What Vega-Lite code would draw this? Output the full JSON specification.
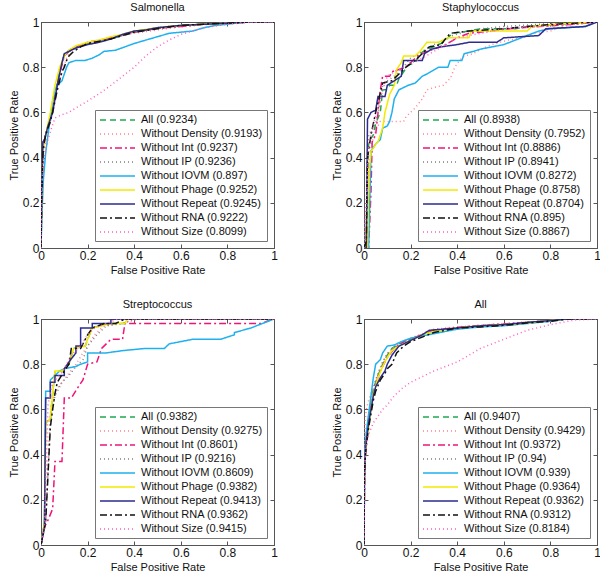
{
"$schema": "https://vega.github.io/schema/vega-lite/v6.json",
"background": "white",
"padding": {"left": 7, "top": 1, "right": 2, "bottom": 2},
"columns": 2,
"spacing": {"row": 22, "column": 52},
"datasets": {
"salmonella": [
{"s":"All","x":0,"y":0},{"s":"All","x":0.003,"y":0.2},{"s":"All","x":0.006,"y":0.38},{"s":"All","x":0.01,"y":0.46},{"s":"All","x":0.02,"y":0.5},{"s":"All","x":0.03,"y":0.54},{"s":"All","x":0.04,"y":0.57},{"s":"All","x":0.05,"y":0.62},{"s":"All","x":0.06,"y":0.68},{"s":"All","x":0.07,"y":0.73},{"s":"All","x":0.08,"y":0.78},{"s":"All","x":0.09,"y":0.82},{"s":"All","x":0.1,"y":0.855},{"s":"All","x":0.12,"y":0.875},{"s":"All","x":0.15,"y":0.89},{"s":"All","x":0.2,"y":0.905},{"s":"All","x":0.25,"y":0.915},{"s":"All","x":0.3,"y":0.925},{"s":"All","x":0.35,"y":0.94},{"s":"All","x":0.4,"y":0.955},{"s":"All","x":0.45,"y":0.965},{"s":"All","x":0.5,"y":0.975},{"s":"All","x":0.6,"y":0.985},{"s":"All","x":0.7,"y":0.99},{"s":"All","x":0.8,"y":0.995},{"s":"All","x":0.9,"y":1},{"s":"All","x":1,"y":1},
{"s":"Density","x":0,"y":0},{"s":"Density","x":0.004,"y":0.28},{"s":"Density","x":0.01,"y":0.4},{"s":"Density","x":0.02,"y":0.47},{"s":"Density","x":0.03,"y":0.52},{"s":"Density","x":0.05,"y":0.6},{"s":"Density","x":0.07,"y":0.7},{"s":"Density","x":0.09,"y":0.78},{"s":"Density","x":0.11,"y":0.84},{"s":"Density","x":0.13,"y":0.88},{"s":"Density","x":0.17,"y":0.9},{"s":"Density","x":0.22,"y":0.915},{"s":"Density","x":0.3,"y":0.93},{"s":"Density","x":0.4,"y":0.95},{"s":"Density","x":0.5,"y":0.965},{"s":"Density","x":0.6,"y":0.978},{"s":"Density","x":0.7,"y":0.988},{"s":"Density","x":0.8,"y":0.995},{"s":"Density","x":0.9,"y":1},{"s":"Density","x":1,"y":1},
{"s":"Int","x":0,"y":0},{"s":"Int","x":0.003,"y":0.22},{"s":"Int","x":0.007,"y":0.4},{"s":"Int","x":0.01,"y":0.45},{"s":"Int","x":0.02,"y":0.5},{"s":"Int","x":0.04,"y":0.56},{"s":"Int","x":0.05,"y":0.61},{"s":"Int","x":0.06,"y":0.67},{"s":"Int","x":0.08,"y":0.77},{"s":"Int","x":0.1,"y":0.85},{"s":"Int","x":0.12,"y":0.87},{"s":"Int","x":0.15,"y":0.89},{"s":"Int","x":0.2,"y":0.91},{"s":"Int","x":0.25,"y":0.92},{"s":"Int","x":0.3,"y":0.93},{"s":"Int","x":0.35,"y":0.945},{"s":"Int","x":0.4,"y":0.955},{"s":"Int","x":0.5,"y":0.972},{"s":"Int","x":0.6,"y":0.98},{"s":"Int","x":0.7,"y":0.99},{"s":"Int","x":0.8,"y":0.996},{"s":"Int","x":0.9,"y":1},{"s":"Int","x":1,"y":1},
{"s":"IP","x":0,"y":0},{"s":"IP","x":0.003,"y":0.21},{"s":"IP","x":0.006,"y":0.38},{"s":"IP","x":0.01,"y":0.46},{"s":"IP","x":0.02,"y":0.51},{"s":"IP","x":0.04,"y":0.57},{"s":"IP","x":0.06,"y":0.68},{"s":"IP","x":0.08,"y":0.78},{"s":"IP","x":0.1,"y":0.85},{"s":"IP","x":0.13,"y":0.88},{"s":"IP","x":0.2,"y":0.905},{"s":"IP","x":0.3,"y":0.925},{"s":"IP","x":0.4,"y":0.955},{"s":"IP","x":0.5,"y":0.975},{"s":"IP","x":0.6,"y":0.985},{"s":"IP","x":0.8,"y":0.995},{"s":"IP","x":0.9,"y":1},{"s":"IP","x":1,"y":1},
{"s":"IOVM","x":0,"y":0},{"s":"IOVM","x":0.004,"y":0.15},{"s":"IOVM","x":0.01,"y":0.3},{"s":"IOVM","x":0.02,"y":0.42},{"s":"IOVM","x":0.03,"y":0.5},{"s":"IOVM","x":0.04,"y":0.58},{"s":"IOVM","x":0.05,"y":0.65},{"s":"IOVM","x":0.06,"y":0.7},{"s":"IOVM","x":0.07,"y":0.72},{"s":"IOVM","x":0.09,"y":0.74},{"s":"IOVM","x":0.1,"y":0.77},{"s":"IOVM","x":0.11,"y":0.8},{"s":"IOVM","x":0.12,"y":0.82},{"s":"IOVM","x":0.15,"y":0.83},{"s":"IOVM","x":0.19,"y":0.83},{"s":"IOVM","x":0.22,"y":0.84},{"s":"IOVM","x":0.25,"y":0.855},{"s":"IOVM","x":0.27,"y":0.87},{"s":"IOVM","x":0.32,"y":0.875},{"s":"IOVM","x":0.36,"y":0.89},{"s":"IOVM","x":0.4,"y":0.905},{"s":"IOVM","x":0.45,"y":0.92},{"s":"IOVM","x":0.5,"y":0.935},{"s":"IOVM","x":0.55,"y":0.95},{"s":"IOVM","x":0.6,"y":0.955},{"s":"IOVM","x":0.65,"y":0.96},{"s":"IOVM","x":0.7,"y":0.975},{"s":"IOVM","x":0.75,"y":0.985},{"s":"IOVM","x":0.8,"y":0.99},{"s":"IOVM","x":0.88,"y":1},{"s":"IOVM","x":1,"y":1},
{"s":"Phage","x":0,"y":0},{"s":"Phage","x":0.003,"y":0.2},{"s":"Phage","x":0.006,"y":0.36},{"s":"Phage","x":0.01,"y":0.44},{"s":"Phage","x":0.02,"y":0.5},{"s":"Phage","x":0.03,"y":0.55},{"s":"Phage","x":0.04,"y":0.6},{"s":"Phage","x":0.05,"y":0.66},{"s":"Phage","x":0.06,"y":0.72},{"s":"Phage","x":0.07,"y":0.76},{"s":"Phage","x":0.08,"y":0.8},{"s":"Phage","x":0.1,"y":0.85},{"s":"Phage","x":0.12,"y":0.875},{"s":"Phage","x":0.15,"y":0.895},{"s":"Phage","x":0.2,"y":0.91},{"s":"Phage","x":0.25,"y":0.92},{"s":"Phage","x":0.3,"y":0.935},{"s":"Phage","x":0.35,"y":0.945},{"s":"Phage","x":0.4,"y":0.96},{"s":"Phage","x":0.5,"y":0.975},{"s":"Phage","x":0.6,"y":0.985},{"s":"Phage","x":0.7,"y":0.99},{"s":"Phage","x":0.8,"y":0.995},{"s":"Phage","x":0.9,"y":1},{"s":"Phage","x":1,"y":1},
{"s":"Repeat","x":0,"y":0},{"s":"Repeat","x":0.003,"y":0.25},{"s":"Repeat","x":0.008,"y":0.47},{"s":"Repeat","x":0.015,"y":0.48},{"s":"Repeat","x":0.02,"y":0.5},{"s":"Repeat","x":0.03,"y":0.54},{"s":"Repeat","x":0.04,"y":0.57},{"s":"Repeat","x":0.05,"y":0.6},{"s":"Repeat","x":0.06,"y":0.66},{"s":"Repeat","x":0.07,"y":0.72},{"s":"Repeat","x":0.08,"y":0.77},{"s":"Repeat","x":0.09,"y":0.82},{"s":"Repeat","x":0.1,"y":0.86},{"s":"Repeat","x":0.12,"y":0.87},{"s":"Repeat","x":0.15,"y":0.885},{"s":"Repeat","x":0.2,"y":0.9},{"s":"Repeat","x":0.25,"y":0.91},{"s":"Repeat","x":0.3,"y":0.925},{"s":"Repeat","x":0.35,"y":0.945},{"s":"Repeat","x":0.4,"y":0.96},{"s":"Repeat","x":0.45,"y":0.965},{"s":"Repeat","x":0.5,"y":0.975},{"s":"Repeat","x":0.6,"y":0.985},{"s":"Repeat","x":0.7,"y":0.99},{"s":"Repeat","x":0.8,"y":0.995},{"s":"Repeat","x":0.9,"y":1},{"s":"Repeat","x":1,"y":1},
{"s":"RNA","x":0,"y":0},{"s":"RNA","x":0.003,"y":0.2},{"s":"RNA","x":0.007,"y":0.37},{"s":"RNA","x":0.01,"y":0.44},{"s":"RNA","x":0.02,"y":0.5},{"s":"RNA","x":0.04,"y":0.56},{"s":"RNA","x":0.05,"y":0.6},{"s":"RNA","x":0.06,"y":0.65},{"s":"RNA","x":0.07,"y":0.7},{"s":"RNA","x":0.08,"y":0.74},{"s":"RNA","x":0.09,"y":0.78},{"s":"RNA","x":0.1,"y":0.8},{"s":"RNA","x":0.11,"y":0.83},{"s":"RNA","x":0.12,"y":0.85},{"s":"RNA","x":0.14,"y":0.87},{"s":"RNA","x":0.17,"y":0.89},{"s":"RNA","x":0.2,"y":0.905},{"s":"RNA","x":0.3,"y":0.925},{"s":"RNA","x":0.4,"y":0.955},{"s":"RNA","x":0.5,"y":0.97},{"s":"RNA","x":0.6,"y":0.985},{"s":"RNA","x":0.7,"y":0.99},{"s":"RNA","x":0.8,"y":0.995},{"s":"RNA","x":0.9,"y":1},{"s":"RNA","x":1,"y":1},
{"s":"Size","x":0,"y":0},{"s":"Size","x":0.003,"y":0.27},{"s":"Size","x":0.01,"y":0.38},{"s":"Size","x":0.02,"y":0.43},{"s":"Size","x":0.03,"y":0.48},{"s":"Size","x":0.045,"y":0.53},{"s":"Size","x":0.06,"y":0.575},{"s":"Size","x":0.09,"y":0.59},{"s":"Size","x":0.12,"y":0.6},{"s":"Size","x":0.15,"y":0.62},{"s":"Size","x":0.2,"y":0.65},{"s":"Size","x":0.26,"y":0.69},{"s":"Size","x":0.3,"y":0.72},{"s":"Size","x":0.35,"y":0.76},{"s":"Size","x":0.4,"y":0.8},{"s":"Size","x":0.45,"y":0.85},{"s":"Size","x":0.5,"y":0.89},{"s":"Size","x":0.55,"y":0.92},{"s":"Size","x":0.6,"y":0.945},{"s":"Size","x":0.65,"y":0.96},{"s":"Size","x":0.7,"y":0.975},{"s":"Size","x":0.8,"y":0.99},{"s":"Size","x":0.9,"y":1},{"s":"Size","x":1,"y":1}
],
"staphylococcus": [
{"s":"All","x":0,"y":0},{"s":"All","x":0.01,"y":0.02},{"s":"All","x":0.015,"y":0.3},{"s":"All","x":0.02,"y":0.47},{"s":"All","x":0.04,"y":0.5},{"s":"All","x":0.05,"y":0.55},{"s":"All","x":0.07,"y":0.6},{"s":"All","x":0.08,"y":0.7},{"s":"All","x":0.1,"y":0.7},{"s":"All","x":0.11,"y":0.72},{"s":"All","x":0.14,"y":0.72},{"s":"All","x":0.15,"y":0.75},{"s":"All","x":0.17,"y":0.78},{"s":"All","x":0.19,"y":0.81},{"s":"All","x":0.22,"y":0.82},{"s":"All","x":0.24,"y":0.86},{"s":"All","x":0.27,"y":0.88},{"s":"All","x":0.3,"y":0.89},{"s":"All","x":0.34,"y":0.91},{"s":"All","x":0.38,"y":0.95},{"s":"All","x":0.45,"y":0.96},{"s":"All","x":0.5,"y":0.97},{"s":"All","x":0.65,"y":0.97},{"s":"All","x":0.7,"y":0.98},{"s":"All","x":0.85,"y":0.99},{"s":"All","x":1,"y":1},
{"s":"Density","x":0,"y":0},{"s":"Density","x":0.01,"y":0.2},{"s":"Density","x":0.03,"y":0.45},{"s":"Density","x":0.05,"y":0.52},{"s":"Density","x":0.07,"y":0.56},{"s":"Density","x":0.17,"y":0.56},{"s":"Density","x":0.18,"y":0.58},{"s":"Density","x":0.2,"y":0.6},{"s":"Density","x":0.22,"y":0.62},{"s":"Density","x":0.25,"y":0.66},{"s":"Density","x":0.27,"y":0.7},{"s":"Density","x":0.3,"y":0.71},{"s":"Density","x":0.34,"y":0.72},{"s":"Density","x":0.37,"y":0.75},{"s":"Density","x":0.39,"y":0.8},{"s":"Density","x":0.41,"y":0.83},{"s":"Density","x":0.43,"y":0.85},{"s":"Density","x":0.47,"y":0.86},{"s":"Density","x":0.5,"y":0.88},{"s":"Density","x":0.55,"y":0.9},{"s":"Density","x":0.62,"y":0.92},{"s":"Density","x":0.68,"y":0.93},{"s":"Density","x":0.72,"y":0.95},{"s":"Density","x":0.8,"y":0.96},{"s":"Density","x":0.85,"y":0.98},{"s":"Density","x":0.9,"y":0.99},{"s":"Density","x":1,"y":1},
{"s":"Int","x":0,"y":0},{"s":"Int","x":0.02,"y":0},{"s":"Int","x":0.03,"y":0.25},{"s":"Int","x":0.035,"y":0.47},{"s":"Int","x":0.05,"y":0.5},{"s":"Int","x":0.06,"y":0.6},{"s":"Int","x":0.07,"y":0.7},{"s":"Int","x":0.08,"y":0.76},{"s":"Int","x":0.11,"y":0.76},{"s":"Int","x":0.12,"y":0.78},{"s":"Int","x":0.15,"y":0.79},{"s":"Int","x":0.18,"y":0.8},{"s":"Int","x":0.21,"y":0.83},{"s":"Int","x":0.23,"y":0.85},{"s":"Int","x":0.27,"y":0.87},{"s":"Int","x":0.3,"y":0.88},{"s":"Int","x":0.35,"y":0.9},{"s":"Int","x":0.4,"y":0.93},{"s":"Int","x":0.45,"y":0.95},{"s":"Int","x":0.55,"y":0.96},{"s":"Int","x":0.62,"y":0.97},{"s":"Int","x":0.75,"y":0.98},{"s":"Int","x":0.9,"y":0.99},{"s":"Int","x":1,"y":1},
{"s":"IP","x":0,"y":0},{"s":"IP","x":0.01,"y":0.05},{"s":"IP","x":0.015,"y":0.35},{"s":"IP","x":0.02,"y":0.5},{"s":"IP","x":0.05,"y":0.55},{"s":"IP","x":0.07,"y":0.65},{"s":"IP","x":0.08,"y":0.72},{"s":"IP","x":0.1,"y":0.74},{"s":"IP","x":0.13,"y":0.76},{"s":"IP","x":0.16,"y":0.79},{"s":"IP","x":0.2,"y":0.84},{"s":"IP","x":0.25,"y":0.87},{"s":"IP","x":0.3,"y":0.9},{"s":"IP","x":0.38,"y":0.94},{"s":"IP","x":0.45,"y":0.96},{"s":"IP","x":0.5,"y":0.97},{"s":"IP","x":0.6,"y":0.98},{"s":"IP","x":0.75,"y":0.99},{"s":"IP","x":1,"y":1},
{"s":"IOVM","x":0,"y":0},{"s":"IOVM","x":0.02,"y":0},{"s":"IOVM","x":0.03,"y":0.43},{"s":"IOVM","x":0.05,"y":0.46},{"s":"IOVM","x":0.07,"y":0.48},{"s":"IOVM","x":0.08,"y":0.53},{"s":"IOVM","x":0.1,"y":0.54},{"s":"IOVM","x":0.11,"y":0.56},{"s":"IOVM","x":0.12,"y":0.6},{"s":"IOVM","x":0.13,"y":0.66},{"s":"IOVM","x":0.15,"y":0.7},{"s":"IOVM","x":0.17,"y":0.71},{"s":"IOVM","x":0.19,"y":0.72},{"s":"IOVM","x":0.22,"y":0.73},{"s":"IOVM","x":0.25,"y":0.76},{"s":"IOVM","x":0.27,"y":0.77},{"s":"IOVM","x":0.32,"y":0.8},{"s":"IOVM","x":0.36,"y":0.8},{"s":"IOVM","x":0.37,"y":0.83},{"s":"IOVM","x":0.42,"y":0.83},{"s":"IOVM","x":0.43,"y":0.86},{"s":"IOVM","x":0.47,"y":0.87},{"s":"IOVM","x":0.5,"y":0.88},{"s":"IOVM","x":0.55,"y":0.89},{"s":"IOVM","x":0.6,"y":0.9},{"s":"IOVM","x":0.65,"y":0.92},{"s":"IOVM","x":0.7,"y":0.94},{"s":"IOVM","x":0.75,"y":0.96},{"s":"IOVM","x":0.8,"y":0.97},{"s":"IOVM","x":0.95,"y":0.98},{"s":"IOVM","x":1,"y":1},
{"s":"Phage","x":0,"y":0},{"s":"Phage","x":0.015,"y":0},{"s":"Phage","x":0.02,"y":0.3},{"s":"Phage","x":0.03,"y":0.43},{"s":"Phage","x":0.04,"y":0.44},{"s":"Phage","x":0.05,"y":0.46},{"s":"Phage","x":0.06,"y":0.47},{"s":"Phage","x":0.08,"y":0.53},{"s":"Phage","x":0.09,"y":0.6},{"s":"Phage","x":0.1,"y":0.64},{"s":"Phage","x":0.11,"y":0.68},{"s":"Phage","x":0.13,"y":0.72},{"s":"Phage","x":0.14,"y":0.79},{"s":"Phage","x":0.16,"y":0.82},{"s":"Phage","x":0.17,"y":0.85},{"s":"Phage","x":0.22,"y":0.85},{"s":"Phage","x":0.24,"y":0.87},{"s":"Phage","x":0.27,"y":0.91},{"s":"Phage","x":0.32,"y":0.91},{"s":"Phage","x":0.36,"y":0.93},{"s":"Phage","x":0.45,"y":0.93},{"s":"Phage","x":0.46,"y":0.96},{"s":"Phage","x":0.7,"y":0.96},{"s":"Phage","x":0.72,"y":0.98},{"s":"Phage","x":0.82,"y":0.99},{"s":"Phage","x":1,"y":1},
{"s":"Repeat","x":0,"y":0},{"s":"Repeat","x":0.01,"y":0},{"s":"Repeat","x":0.015,"y":0.57},{"s":"Repeat","x":0.03,"y":0.6},{"s":"Repeat","x":0.05,"y":0.61},{"s":"Repeat","x":0.06,"y":0.67},{"s":"Repeat","x":0.09,"y":0.67},{"s":"Repeat","x":0.1,"y":0.72},{"s":"Repeat","x":0.13,"y":0.74},{"s":"Repeat","x":0.16,"y":0.76},{"s":"Repeat","x":0.17,"y":0.83},{"s":"Repeat","x":0.25,"y":0.83},{"s":"Repeat","x":0.26,"y":0.86},{"s":"Repeat","x":0.29,"y":0.88},{"s":"Repeat","x":0.33,"y":0.89},{"s":"Repeat","x":0.4,"y":0.9},{"s":"Repeat","x":0.45,"y":0.91},{"s":"Repeat","x":0.57,"y":0.91},{"s":"Repeat","x":0.6,"y":0.93},{"s":"Repeat","x":0.75,"y":0.94},{"s":"Repeat","x":0.78,"y":0.97},{"s":"Repeat","x":0.95,"y":0.98},{"s":"Repeat","x":1,"y":1},
{"s":"RNA","x":0,"y":0},{"s":"RNA","x":0.01,"y":0.03},{"s":"RNA","x":0.015,"y":0.4},{"s":"RNA","x":0.03,"y":0.5},{"s":"RNA","x":0.05,"y":0.6},{"s":"RNA","x":0.08,"y":0.73},{"s":"RNA","x":0.12,"y":0.74},{"s":"RNA","x":0.15,"y":0.77},{"s":"RNA","x":0.18,"y":0.8},{"s":"RNA","x":0.22,"y":0.83},{"s":"RNA","x":0.25,"y":0.86},{"s":"RNA","x":0.28,"y":0.89},{"s":"RNA","x":0.33,"y":0.9},{"s":"RNA","x":0.37,"y":0.95},{"s":"RNA","x":0.45,"y":0.96},{"s":"RNA","x":0.6,"y":0.97},{"s":"RNA","x":0.7,"y":0.98},{"s":"RNA","x":0.82,"y":0.99},{"s":"RNA","x":1,"y":1},
{"s":"Size","x":0,"y":0},{"s":"Size","x":0.01,"y":0.2},{"s":"Size","x":0.02,"y":0.45},{"s":"Size","x":0.04,"y":0.55},{"s":"Size","x":0.06,"y":0.62},{"s":"Size","x":0.08,"y":0.7},{"s":"Size","x":0.1,"y":0.76},{"s":"Size","x":0.13,"y":0.78},{"s":"Size","x":0.17,"y":0.8},{"s":"Size","x":0.2,"y":0.82},{"s":"Size","x":0.25,"y":0.84},{"s":"Size","x":0.3,"y":0.87},{"s":"Size","x":0.35,"y":0.9},{"s":"Size","x":0.4,"y":0.93},{"s":"Size","x":0.5,"y":0.95},{"s":"Size","x":0.6,"y":0.97},{"s":"Size","x":0.75,"y":0.98},{"s":"Size","x":0.9,"y":0.99},{"s":"Size","x":1,"y":1}
],
"streptococcus": [
{"s":"All","x":0,"y":0},{"s":"All","x":0.015,"y":0.08},{"s":"All","x":0.02,"y":0.54},{"s":"All","x":0.04,"y":0.56},{"s":"All","x":0.05,"y":0.67},{"s":"All","x":0.06,"y":0.77},{"s":"All","x":0.09,"y":0.77},{"s":"All","x":0.12,"y":0.8},{"s":"All","x":0.14,"y":0.87},{"s":"All","x":0.19,"y":0.88},{"s":"All","x":0.2,"y":0.91},{"s":"All","x":0.22,"y":0.96},{"s":"All","x":0.28,"y":0.98},{"s":"All","x":0.36,"y":0.98},{"s":"All","x":0.37,"y":1},{"s":"All","x":1,"y":1},
{"s":"Density","x":0,"y":0},{"s":"Density","x":0.02,"y":0.1},{"s":"Density","x":0.04,"y":0.58},{"s":"Density","x":0.06,"y":0.68},{"s":"Density","x":0.09,"y":0.72},{"s":"Density","x":0.12,"y":0.76},{"s":"Density","x":0.15,"y":0.8},{"s":"Density","x":0.18,"y":0.85},{"s":"Density","x":0.2,"y":0.88},{"s":"Density","x":0.23,"y":0.93},{"s":"Density","x":0.27,"y":0.97},{"s":"Density","x":0.35,"y":0.98},{"s":"Density","x":0.42,"y":1},{"s":"Density","x":1,"y":1},
{"s":"Int","x":0,"y":0},{"s":"Int","x":0.01,"y":0.07},{"s":"Int","x":0.03,"y":0.11},{"s":"Int","x":0.05,"y":0.16},{"s":"Int","x":0.06,"y":0.37},{"s":"Int","x":0.09,"y":0.37},{"s":"Int","x":0.1,"y":0.65},{"s":"Int","x":0.13,"y":0.65},{"s":"Int","x":0.16,"y":0.7},{"s":"Int","x":0.18,"y":0.73},{"s":"Int","x":0.2,"y":0.8},{"s":"Int","x":0.24,"y":0.81},{"s":"Int","x":0.26,"y":0.87},{"s":"Int","x":0.3,"y":0.91},{"s":"Int","x":0.35,"y":0.91},{"s":"Int","x":0.36,"y":0.98},{"s":"Int","x":0.6,"y":0.98},{"s":"Int","x":0.95,"y":0.98},{"s":"Int","x":0.97,"y":0.99},{"s":"Int","x":1,"y":1},
{"s":"IP","x":0,"y":0},{"s":"IP","x":0.02,"y":0.1},{"s":"IP","x":0.04,"y":0.55},{"s":"IP","x":0.06,"y":0.66},{"s":"IP","x":0.09,"y":0.72},{"s":"IP","x":0.12,"y":0.75},{"s":"IP","x":0.15,"y":0.79},{"s":"IP","x":0.18,"y":0.82},{"s":"IP","x":0.2,"y":0.88},{"s":"IP","x":0.24,"y":0.93},{"s":"IP","x":0.28,"y":0.97},{"s":"IP","x":0.35,"y":0.98},{"s":"IP","x":0.4,"y":1},{"s":"IP","x":1,"y":1},
{"s":"IOVM","x":0,"y":0},{"s":"IOVM","x":0.015,"y":0.1},{"s":"IOVM","x":0.02,"y":0.68},{"s":"IOVM","x":0.04,"y":0.68},{"s":"IOVM","x":0.04,"y":0.73},{"s":"IOVM","x":0.06,"y":0.75},{"s":"IOVM","x":0.08,"y":0.77},{"s":"IOVM","x":0.1,"y":0.78},{"s":"IOVM","x":0.15,"y":0.79},{"s":"IOVM","x":0.17,"y":0.8},{"s":"IOVM","x":0.2,"y":0.81},{"s":"IOVM","x":0.2,"y":0.85},{"s":"IOVM","x":0.28,"y":0.85},{"s":"IOVM","x":0.35,"y":0.86},{"s":"IOVM","x":0.45,"y":0.87},{"s":"IOVM","x":0.53,"y":0.87},{"s":"IOVM","x":0.55,"y":0.89},{"s":"IOVM","x":0.65,"y":0.91},{"s":"IOVM","x":0.77,"y":0.91},{"s":"IOVM","x":0.83,"y":0.93},{"s":"IOVM","x":0.83,"y":0.94},{"s":"IOVM","x":0.9,"y":0.96},{"s":"IOVM","x":1,"y":1},
{"s":"Phage","x":0,"y":0},{"s":"Phage","x":0.015,"y":0.1},{"s":"Phage","x":0.02,"y":0.54},{"s":"Phage","x":0.04,"y":0.56},{"s":"Phage","x":0.05,"y":0.67},{"s":"Phage","x":0.06,"y":0.77},{"s":"Phage","x":0.09,"y":0.77},{"s":"Phage","x":0.12,"y":0.8},{"s":"Phage","x":0.14,"y":0.87},{"s":"Phage","x":0.19,"y":0.88},{"s":"Phage","x":0.2,"y":0.91},{"s":"Phage","x":0.22,"y":0.96},{"s":"Phage","x":0.3,"y":0.98},{"s":"Phage","x":0.36,"y":0.98},{"s":"Phage","x":0.37,"y":1},{"s":"Phage","x":1,"y":1},
{"s":"Repeat","x":0,"y":0},{"s":"Repeat","x":0.015,"y":0.08},{"s":"Repeat","x":0.02,"y":0.65},{"s":"Repeat","x":0.04,"y":0.65},{"s":"Repeat","x":0.04,"y":0.72},{"s":"Repeat","x":0.06,"y":0.72},{"s":"Repeat","x":0.06,"y":0.75},{"s":"Repeat","x":0.1,"y":0.75},{"s":"Repeat","x":0.1,"y":0.78},{"s":"Repeat","x":0.12,"y":0.81},{"s":"Repeat","x":0.15,"y":0.85},{"s":"Repeat","x":0.15,"y":0.88},{"s":"Repeat","x":0.17,"y":0.88},{"s":"Repeat","x":0.17,"y":0.96},{"s":"Repeat","x":0.22,"y":0.96},{"s":"Repeat","x":0.22,"y":0.98},{"s":"Repeat","x":0.3,"y":0.98},{"s":"Repeat","x":0.3,"y":1},{"s":"Repeat","x":1,"y":1},
{"s":"RNA","x":0,"y":0},{"s":"RNA","x":0.02,"y":0.1},{"s":"RNA","x":0.04,"y":0.52},{"s":"RNA","x":0.05,"y":0.6},{"s":"RNA","x":0.06,"y":0.67},{"s":"RNA","x":0.07,"y":0.72},{"s":"RNA","x":0.1,"y":0.77},{"s":"RNA","x":0.12,"y":0.8},{"s":"RNA","x":0.13,"y":0.87},{"s":"RNA","x":0.17,"y":0.87},{"s":"RNA","x":0.2,"y":0.93},{"s":"RNA","x":0.22,"y":0.96},{"s":"RNA","x":0.27,"y":0.98},{"s":"RNA","x":0.32,"y":0.98},{"s":"RNA","x":0.36,"y":1},{"s":"RNA","x":1,"y":1},
{"s":"Size","x":0,"y":0},{"s":"Size","x":0.015,"y":0.08},{"s":"Size","x":0.03,"y":0.62},{"s":"Size","x":0.05,"y":0.72},{"s":"Size","x":0.08,"y":0.75},{"s":"Size","x":0.1,"y":0.78},{"s":"Size","x":0.13,"y":0.84},{"s":"Size","x":0.17,"y":0.88},{"s":"Size","x":0.2,"y":0.93},{"s":"Size","x":0.23,"y":0.96},{"s":"Size","x":0.28,"y":0.98},{"s":"Size","x":0.33,"y":1},{"s":"Size","x":1,"y":1}
],
"all": [
{"s":"All","x":0,"y":0},{"s":"All","x":0.002,"y":0.3},{"s":"All","x":0.005,"y":0.4},{"s":"All","x":0.01,"y":0.47},{"s":"All","x":0.02,"y":0.56},{"s":"All","x":0.03,"y":0.63},{"s":"All","x":0.04,"y":0.69},{"s":"All","x":0.05,"y":0.72},{"s":"All","x":0.06,"y":0.75},{"s":"All","x":0.08,"y":0.8},{"s":"All","x":0.1,"y":0.84},{"s":"All","x":0.12,"y":0.87},{"s":"All","x":0.15,"y":0.89},{"s":"All","x":0.2,"y":0.91},{"s":"All","x":0.25,"y":0.93},{"s":"All","x":0.3,"y":0.945},{"s":"All","x":0.4,"y":0.96},{"s":"All","x":0.5,"y":0.97},{"s":"All","x":0.6,"y":0.975},{"s":"All","x":0.7,"y":0.985},{"s":"All","x":0.8,"y":0.993},{"s":"All","x":0.87,"y":1},{"s":"All","x":1,"y":1},
{"s":"Density","x":0,"y":0},{"s":"Density","x":0.002,"y":0.42},{"s":"Density","x":0.005,"y":0.55},{"s":"Density","x":0.01,"y":0.6},{"s":"Density","x":0.02,"y":0.64},{"s":"Density","x":0.04,"y":0.7},{"s":"Density","x":0.06,"y":0.76},{"s":"Density","x":0.08,"y":0.81},{"s":"Density","x":0.1,"y":0.85},{"s":"Density","x":0.15,"y":0.89},{"s":"Density","x":0.2,"y":0.915},{"s":"Density","x":0.3,"y":0.955},{"s":"Density","x":0.4,"y":0.965},{"s":"Density","x":0.5,"y":0.972},{"s":"Density","x":0.6,"y":0.98},{"s":"Density","x":0.7,"y":0.987},{"s":"Density","x":0.8,"y":0.993},{"s":"Density","x":0.9,"y":1},{"s":"Density","x":1,"y":1},
{"s":"Int","x":0,"y":0},{"s":"Int","x":0.002,"y":0.28},{"s":"Int","x":0.005,"y":0.38},{"s":"Int","x":0.01,"y":0.46},{"s":"Int","x":0.02,"y":0.55},{"s":"Int","x":0.03,"y":0.62},{"s":"Int","x":0.05,"y":0.71},{"s":"Int","x":0.07,"y":0.77},{"s":"Int","x":0.1,"y":0.83},{"s":"Int","x":0.13,"y":0.87},{"s":"Int","x":0.17,"y":0.9},{"s":"Int","x":0.22,"y":0.92},{"s":"Int","x":0.3,"y":0.95},{"s":"Int","x":0.4,"y":0.963},{"s":"Int","x":0.5,"y":0.972},{"s":"Int","x":0.6,"y":0.978},{"s":"Int","x":0.7,"y":0.985},{"s":"Int","x":0.8,"y":0.993},{"s":"Int","x":0.87,"y":1},{"s":"Int","x":1,"y":1},
{"s":"IP","x":0,"y":0},{"s":"IP","x":0.002,"y":0.32},{"s":"IP","x":0.005,"y":0.41},{"s":"IP","x":0.01,"y":0.48},{"s":"IP","x":0.02,"y":0.57},{"s":"IP","x":0.03,"y":0.64},{"s":"IP","x":0.05,"y":0.73},{"s":"IP","x":0.08,"y":0.81},{"s":"IP","x":0.1,"y":0.845},{"s":"IP","x":0.15,"y":0.89},{"s":"IP","x":0.2,"y":0.91},{"s":"IP","x":0.3,"y":0.945},{"s":"IP","x":0.4,"y":0.96},{"s":"IP","x":0.5,"y":0.97},{"s":"IP","x":0.6,"y":0.975},{"s":"IP","x":0.7,"y":0.985},{"s":"IP","x":0.8,"y":0.993},{"s":"IP","x":0.87,"y":1},{"s":"IP","x":1,"y":1},
{"s":"IOVM","x":0,"y":0},{"s":"IOVM","x":0.002,"y":0.3},{"s":"IOVM","x":0.005,"y":0.42},{"s":"IOVM","x":0.01,"y":0.5},{"s":"IOVM","x":0.02,"y":0.58},{"s":"IOVM","x":0.03,"y":0.66},{"s":"IOVM","x":0.04,"y":0.74},{"s":"IOVM","x":0.05,"y":0.8},{"s":"IOVM","x":0.07,"y":0.82},{"s":"IOVM","x":0.08,"y":0.85},{"s":"IOVM","x":0.1,"y":0.88},{"s":"IOVM","x":0.13,"y":0.885},{"s":"IOVM","x":0.16,"y":0.9},{"s":"IOVM","x":0.2,"y":0.915},{"s":"IOVM","x":0.25,"y":0.925},{"s":"IOVM","x":0.3,"y":0.935},{"s":"IOVM","x":0.4,"y":0.955},{"s":"IOVM","x":0.5,"y":0.965},{"s":"IOVM","x":0.6,"y":0.97},{"s":"IOVM","x":0.7,"y":0.98},{"s":"IOVM","x":0.8,"y":0.99},{"s":"IOVM","x":0.87,"y":1},{"s":"IOVM","x":1,"y":1},
{"s":"Phage","x":0,"y":0},{"s":"Phage","x":0.002,"y":0.28},{"s":"Phage","x":0.005,"y":0.38},{"s":"Phage","x":0.01,"y":0.45},{"s":"Phage","x":0.02,"y":0.52},{"s":"Phage","x":0.03,"y":0.6},{"s":"Phage","x":0.04,"y":0.67},{"s":"Phage","x":0.05,"y":0.7},{"s":"Phage","x":0.06,"y":0.74},{"s":"Phage","x":0.08,"y":0.79},{"s":"Phage","x":0.1,"y":0.83},{"s":"Phage","x":0.12,"y":0.86},{"s":"Phage","x":0.15,"y":0.88},{"s":"Phage","x":0.2,"y":0.905},{"s":"Phage","x":0.25,"y":0.93},{"s":"Phage","x":0.3,"y":0.945},{"s":"Phage","x":0.4,"y":0.96},{"s":"Phage","x":0.5,"y":0.97},{"s":"Phage","x":0.6,"y":0.975},{"s":"Phage","x":0.7,"y":0.982},{"s":"Phage","x":0.8,"y":0.993},{"s":"Phage","x":0.87,"y":1},{"s":"Phage","x":1,"y":1},
{"s":"Repeat","x":0,"y":0},{"s":"Repeat","x":0.002,"y":0.3},{"s":"Repeat","x":0.005,"y":0.4},{"s":"Repeat","x":0.01,"y":0.46},{"s":"Repeat","x":0.02,"y":0.54},{"s":"Repeat","x":0.03,"y":0.6},{"s":"Repeat","x":0.04,"y":0.66},{"s":"Repeat","x":0.05,"y":0.7},{"s":"Repeat","x":0.07,"y":0.74},{"s":"Repeat","x":0.09,"y":0.77},{"s":"Repeat","x":0.1,"y":0.8},{"s":"Repeat","x":0.12,"y":0.84},{"s":"Repeat","x":0.15,"y":0.88},{"s":"Repeat","x":0.2,"y":0.905},{"s":"Repeat","x":0.25,"y":0.93},{"s":"Repeat","x":0.28,"y":0.95},{"s":"Repeat","x":0.4,"y":0.96},{"s":"Repeat","x":0.5,"y":0.97},{"s":"Repeat","x":0.6,"y":0.975},{"s":"Repeat","x":0.7,"y":0.985},{"s":"Repeat","x":0.8,"y":0.993},{"s":"Repeat","x":0.87,"y":1},{"s":"Repeat","x":1,"y":1},
{"s":"RNA","x":0,"y":0},{"s":"RNA","x":0.002,"y":0.3},{"s":"RNA","x":0.005,"y":0.38},{"s":"RNA","x":0.01,"y":0.44},{"s":"RNA","x":0.02,"y":0.52},{"s":"RNA","x":0.03,"y":0.58},{"s":"RNA","x":0.04,"y":0.64},{"s":"RNA","x":0.05,"y":0.68},{"s":"RNA","x":0.07,"y":0.73},{"s":"RNA","x":0.09,"y":0.76},{"s":"RNA","x":0.1,"y":0.78},{"s":"RNA","x":0.12,"y":0.8},{"s":"RNA","x":0.14,"y":0.85},{"s":"RNA","x":0.17,"y":0.88},{"s":"RNA","x":0.2,"y":0.9},{"s":"RNA","x":0.25,"y":0.92},{"s":"RNA","x":0.3,"y":0.94},{"s":"RNA","x":0.4,"y":0.96},{"s":"RNA","x":0.5,"y":0.965},{"s":"RNA","x":0.6,"y":0.972},{"s":"RNA","x":0.7,"y":0.982},{"s":"RNA","x":0.8,"y":0.99},{"s":"RNA","x":0.87,"y":1},{"s":"RNA","x":1,"y":1},
{"s":"Size","x":0,"y":0},{"s":"Size","x":0.003,"y":0.35},{"s":"Size","x":0.01,"y":0.44},{"s":"Size","x":0.02,"y":0.49},{"s":"Size","x":0.04,"y":0.54},{"s":"Size","x":0.06,"y":0.57},{"s":"Size","x":0.08,"y":0.6},{"s":"Size","x":0.1,"y":0.62},{"s":"Size","x":0.13,"y":0.66},{"s":"Size","x":0.16,"y":0.69},{"s":"Size","x":0.2,"y":0.72},{"s":"Size","x":0.25,"y":0.745},{"s":"Size","x":0.3,"y":0.77},{"s":"Size","x":0.4,"y":0.81},{"s":"Size","x":0.5,"y":0.87},{"s":"Size","x":0.6,"y":0.91},{"s":"Size","x":0.7,"y":0.95},{"s":"Size","x":0.8,"y":0.975},{"s":"Size","x":0.9,"y":0.995},{"s":"Size","x":1,"y":1}
]
},
"concat": [
{
"title": "Salmonella",
"width": 233, "height": 226,
"data": {"name": "salmonella"},
"layer": [
{
"mark": {"type": "line", "strokeWidth": 1.5, "clip": true},
"encoding": {
"x": {"field": "x", "type": "quantitative", "scale": {"domain": [0, 1], "nice": false}, "axis": {"title": "False Positive Rate", "values": [0, 0.2, 0.4, 0.6, 0.8, 1], "format": "~g"}},
"y": {"field": "y", "type": "quantitative", "scale": {"domain": [0, 1], "nice": false}, "axis": {"title": "True Positive Rate", "values": [0, 0.2, 0.4, 0.6, 0.8, 1], "format": "~g"}},
"color": {"field": "s", "type": "nominal", "scale": {"domain": ["All","Density","Int","IP","IOVM","Phage","Repeat","RNA","Size"], "range": ["#1fa84f","#ff8090","#f0147a","#808080","#1fb0ee","#f2ea00","#2d2d8f","#111111","#ff5fbf"]}, "legend": {"title": null, "labelExpr": "{'All':'All (0.9234)','Density':'Without Density (0.9193)','Int':'Without Int (0.9237)','IP':'Without IP (0.9236)','IOVM':'Without IOVM (0.897)','Phage':'Without Phage (0.9252)','Repeat':'Without Repeat (0.9245)','RNA':'Without RNA (0.9222)','Size':'Without Size (0.8099)'}[datum.label]"}},
"strokeDash": {"field": "s", "type": "nominal", "scale": {"domain": ["All","Density","Int","IP","IOVM","Phage","Repeat","RNA","Size"], "range": [[6,4],[1,3],[7,3,2,3],[1,3],[1,0],[1,0],[1,0],[7,3,2,3],[1,3]]}, "legend": {"title": null, "labelExpr": "{'All':'All (0.9234)','Density':'Without Density (0.9193)','Int':'Without Int (0.9237)','IP':'Without IP (0.9236)','IOVM':'Without IOVM (0.897)','Phage':'Without Phage (0.9252)','Repeat':'Without Repeat (0.9245)','RNA':'Without RNA (0.9222)','Size':'Without Size (0.8099)'}[datum.label]"}},
"order": [{"field": "x", "type": "quantitative"}, {"field": "y", "type": "quantitative"}]
}
},
{
"mark": {"type": "line", "opacity": 0},
"encoding": {
"x": {"field": "x", "type": "quantitative", "axis": {"orient": "top", "title": null, "labels": false, "values": [0, 0.2, 0.4, 0.6, 0.8, 1]}},
"y": {"field": "y", "type": "quantitative", "axis": {"orient": "right", "title": null, "labels": false, "values": [0, 0.2, 0.4, 0.6, 0.8, 1]}}
}
}
],
"resolve": {"axis": {"x": "independent", "y": "independent"}}
},
{
"title": "Staphylococcus",
"width": 233, "height": 226,
"data": {"name": "staphylococcus"},
"layer": [
{
"mark": {"type": "line", "strokeWidth": 1.5, "clip": true},
"encoding": {
"x": {"field": "x", "type": "quantitative", "scale": {"domain": [0, 1], "nice": false}, "axis": {"title": "False Positive Rate", "values": [0, 0.2, 0.4, 0.6, 0.8, 1], "format": "~g"}},
"y": {"field": "y", "type": "quantitative", "scale": {"domain": [0, 1], "nice": false}, "axis": {"title": "True Positive Rate", "values": [0, 0.2, 0.4, 0.6, 0.8, 1], "format": "~g"}},
"color": {"field": "s", "type": "nominal", "scale": {"domain": ["All","Density","Int","IP","IOVM","Phage","Repeat","RNA","Size"], "range": ["#1fa84f","#ff8090","#f0147a","#808080","#1fb0ee","#f2ea00","#2d2d8f","#111111","#ff5fbf"]}, "legend": {"title": null, "labelExpr": "{'All':'All (0.8938)','Density':'Without Density (0.7952)','Int':'Without Int (0.8886)','IP':'Without IP (0.8941)','IOVM':'Without IOVM (0.8272)','Phage':'Without Phage (0.8758)','Repeat':'Without Repeat (0.8704)','RNA':'Without RNA (0.895)','Size':'Without Size (0.8867)'}[datum.label]"}},
"strokeDash": {"field": "s", "type": "nominal", "scale": {"domain": ["All","Density","Int","IP","IOVM","Phage","Repeat","RNA","Size"], "range": [[6,4],[1,3],[7,3,2,3],[1,3],[1,0],[1,0],[1,0],[7,3,2,3],[1,3]]}, "legend": {"title": null, "labelExpr": "{'All':'All (0.8938)','Density':'Without Density (0.7952)','Int':'Without Int (0.8886)','IP':'Without IP (0.8941)','IOVM':'Without IOVM (0.8272)','Phage':'Without Phage (0.8758)','Repeat':'Without Repeat (0.8704)','RNA':'Without RNA (0.895)','Size':'Without Size (0.8867)'}[datum.label]"}},
"order": [{"field": "x", "type": "quantitative"}, {"field": "y", "type": "quantitative"}]
}
},
{
"mark": {"type": "line", "opacity": 0},
"encoding": {
"x": {"field": "x", "type": "quantitative", "axis": {"orient": "top", "title": null, "labels": false, "values": [0, 0.2, 0.4, 0.6, 0.8, 1]}},
"y": {"field": "y", "type": "quantitative", "axis": {"orient": "right", "title": null, "labels": false, "values": [0, 0.2, 0.4, 0.6, 0.8, 1]}}
}
}
],
"resolve": {"axis": {"x": "independent", "y": "independent"}}
},
{
"title": "Streptococcus",
"width": 233, "height": 226,
"data": {"name": "streptococcus"},
"layer": [
{
"mark": {"type": "line", "strokeWidth": 1.5, "clip": true},
"encoding": {
"x": {"field": "x", "type": "quantitative", "scale": {"domain": [0, 1], "nice": false}, "axis": {"title": "False Positive Rate", "values": [0, 0.2, 0.4, 0.6, 0.8, 1], "format": "~g"}},
"y": {"field": "y", "type": "quantitative", "scale": {"domain": [0, 1], "nice": false}, "axis": {"title": "True Positive Rate", "values": [0, 0.2, 0.4, 0.6, 0.8, 1], "format": "~g"}},
"color": {"field": "s", "type": "nominal", "scale": {"domain": ["All","Density","Int","IP","IOVM","Phage","Repeat","RNA","Size"], "range": ["#1fa84f","#ff8090","#f0147a","#808080","#1fb0ee","#f2ea00","#2d2d8f","#111111","#ff5fbf"]}, "legend": {"title": null, "labelExpr": "{'All':'All (0.9382)','Density':'Without Density (0.9275)','Int':'Without Int (0.8601)','IP':'Without IP (0.9216)','IOVM':'Without IOVM (0.8609)','Phage':'Without Phage (0.9382)','Repeat':'Without Repeat (0.9413)','RNA':'Without RNA (0.9362)','Size':'Without Size (0.9415)'}[datum.label]"}},
"strokeDash": {"field": "s", "type": "nominal", "scale": {"domain": ["All","Density","Int","IP","IOVM","Phage","Repeat","RNA","Size"], "range": [[6,4],[1,3],[7,3,2,3],[1,3],[1,0],[1,0],[1,0],[7,3,2,3],[1,3]]}, "legend": {"title": null, "labelExpr": "{'All':'All (0.9382)','Density':'Without Density (0.9275)','Int':'Without Int (0.8601)','IP':'Without IP (0.9216)','IOVM':'Without IOVM (0.8609)','Phage':'Without Phage (0.9382)','Repeat':'Without Repeat (0.9413)','RNA':'Without RNA (0.9362)','Size':'Without Size (0.9415)'}[datum.label]"}},
"order": [{"field": "x", "type": "quantitative"}, {"field": "y", "type": "quantitative"}]
}
},
{
"mark": {"type": "line", "opacity": 0},
"encoding": {
"x": {"field": "x", "type": "quantitative", "axis": {"orient": "top", "title": null, "labels": false, "values": [0, 0.2, 0.4, 0.6, 0.8, 1]}},
"y": {"field": "y", "type": "quantitative", "axis": {"orient": "right", "title": null, "labels": false, "values": [0, 0.2, 0.4, 0.6, 0.8, 1]}}
}
}
],
"resolve": {"axis": {"x": "independent", "y": "independent"}}
},
{
"title": "All",
"width": 233, "height": 226,
"data": {"name": "all"},
"layer": [
{
"mark": {"type": "line", "strokeWidth": 1.5, "clip": true},
"encoding": {
"x": {"field": "x", "type": "quantitative", "scale": {"domain": [0, 1], "nice": false}, "axis": {"title": "False Positive Rate", "values": [0, 0.2, 0.4, 0.6, 0.8, 1], "format": "~g"}},
"y": {"field": "y", "type": "quantitative", "scale": {"domain": [0, 1], "nice": false}, "axis": {"title": "True Positive Rate", "values": [0, 0.2, 0.4, 0.6, 0.8, 1], "format": "~g"}},
"color": {"field": "s", "type": "nominal", "scale": {"domain": ["All","Density","Int","IP","IOVM","Phage","Repeat","RNA","Size"], "range": ["#1fa84f","#ff8090","#f0147a","#808080","#1fb0ee","#f2ea00","#2d2d8f","#111111","#ff5fbf"]}, "legend": {"title": null, "labelExpr": "{'All':'All (0.9407)','Density':'Without Density (0.9429)','Int':'Without Int (0.9372)','IP':'Without IP (0.94)','IOVM':'Without IOVM (0.939)','Phage':'Without Phage (0.9364)','Repeat':'Without Repeat (0.9362)','RNA':'Without RNA (0.9312)','Size':'Without Size (0.8184)'}[datum.label]"}},
"strokeDash": {"field": "s", "type": "nominal", "scale": {"domain": ["All","Density","Int","IP","IOVM","Phage","Repeat","RNA","Size"], "range": [[6,4],[1,3],[7,3,2,3],[1,3],[1,0],[1,0],[1,0],[7,3,2,3],[1,3]]}, "legend": {"title": null, "labelExpr": "{'All':'All (0.9407)','Density':'Without Density (0.9429)','Int':'Without Int (0.9372)','IP':'Without IP (0.94)','IOVM':'Without IOVM (0.939)','Phage':'Without Phage (0.9364)','Repeat':'Without Repeat (0.9362)','RNA':'Without RNA (0.9312)','Size':'Without Size (0.8184)'}[datum.label]"}},
"order": [{"field": "x", "type": "quantitative"}, {"field": "y", "type": "quantitative"}]
}
},
{
"mark": {"type": "line", "opacity": 0},
"encoding": {
"x": {"field": "x", "type": "quantitative", "axis": {"orient": "top", "title": null, "labels": false, "values": [0, 0.2, 0.4, 0.6, 0.8, 1]}},
"y": {"field": "y", "type": "quantitative", "axis": {"orient": "right", "title": null, "labels": false, "values": [0, 0.2, 0.4, 0.6, 0.8, 1]}}
}
}
],
"resolve": {"axis": {"x": "independent", "y": "independent"}}
}
],
"resolve": {"scale": {"color": "independent", "strokeDash": "independent"}, "legend": {"color": "independent", "strokeDash": "independent"}},
"config": {
"font": "Liberation Sans",
"view": {"stroke": "#555", "strokeWidth": 1},
"axis": {"labelFontSize": 12, "titleFontSize": 11, "titleFontWeight": "normal", "labelColor": "#111", "titleColor": "#111", "domainColor": "#555", "tickColor": "#555", "tickSize": -4, "labelPadding": 6, "grid": false, "labelFlush": false, "titlePadding": 3},
"title": {"fontSize": 11, "fontWeight": "normal", "color": "#111", "offset": 3},
"legend": {"orient": "bottom-right", "offset": 7, "strokeColor": "#777", "fillColor": "white", "padding": 4, "labelFontSize": 11, "labelColor": "#111", "symbolType": "M-1,0H6", "symbolSize": 100, "symbolStrokeWidth": 1.5, "labelOffset": 30, "rowPadding": 3, "labelLimit": 300}
}
}
